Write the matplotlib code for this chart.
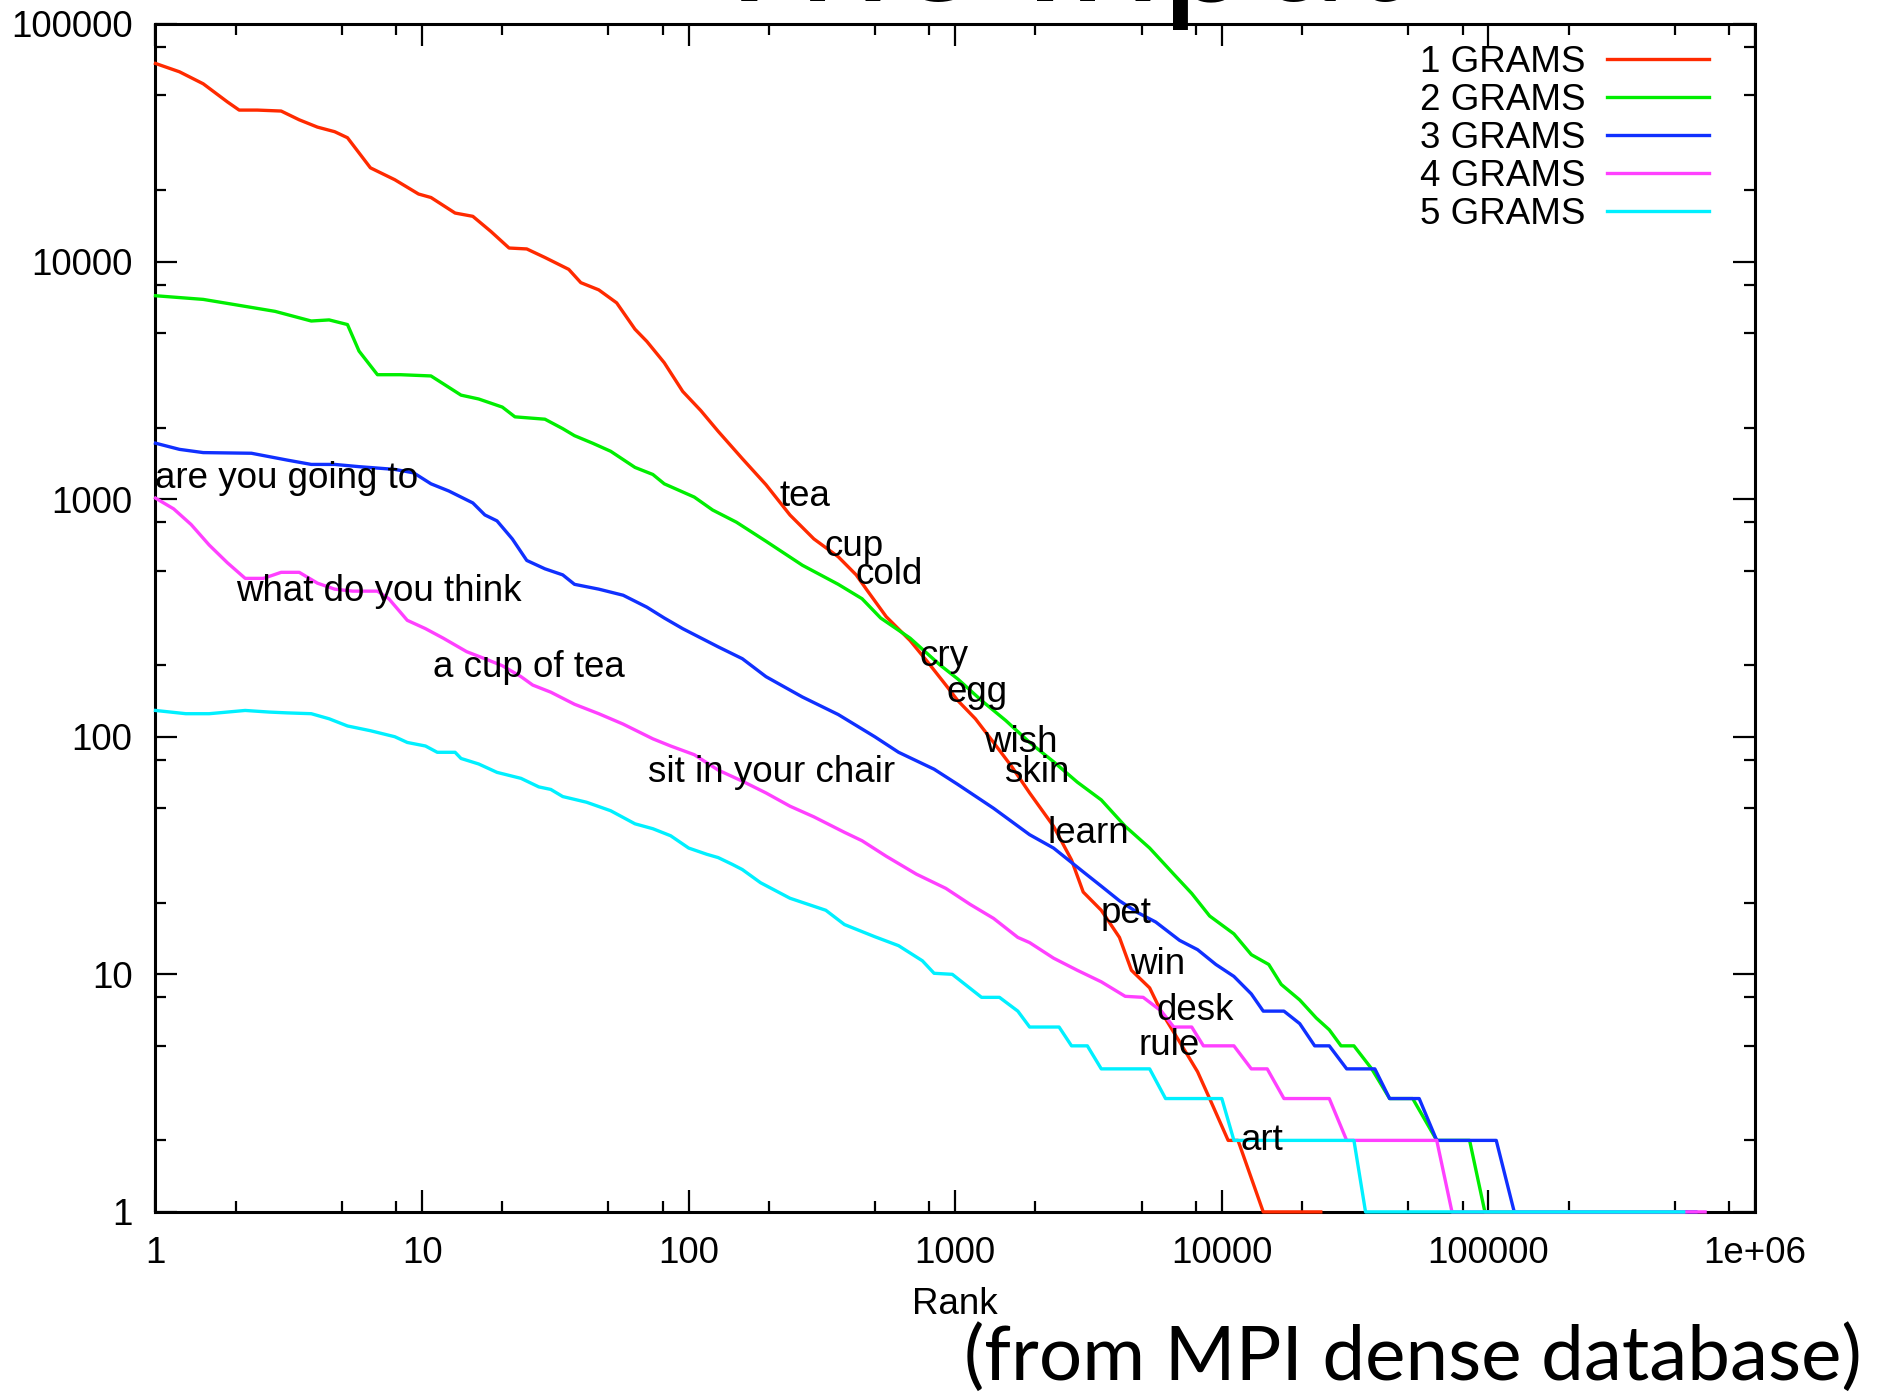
import matplotlib
matplotlib.use('Agg')
import matplotlib.pyplot as plt
from matplotlib.ticker import FixedLocator, NullFormatter

# data (rank, count)
rank_1 = [1, 1.23, 1.51, 1.86, 2.06, 2.41, 2.96, 3.46, 4.05, 4.7, 5.25, 6.4, 7.9, 9.7,
          10.8, 13.3, 15.5, 18.1, 21.2, 24.7, 28.9, 35.5, 39.4, 46, 53.7, 62.9, 69.7,
          81, 95, 111, 129, 159, 195, 240, 295, 364, 425, 471, 551, 677, 789, 922,
          1022, 1190, 1392, 1627, 1901, 2337, 2730, 3020, 3530, 4130, 4580, 5360,
          5930, 6940, 8110, 9000, 10560, 11500, 14300, 23500]
count_1 = [68200, 62900, 56000, 47000, 43400, 43400, 43000, 39500, 36800, 35200, 33200,
           24800, 22100, 19240, 18600, 16000, 15500, 13400, 11400, 11300, 10400, 9270,
           8150, 7600, 6700, 5190, 4610, 3750, 2840, 2360, 1930, 1480, 1150, 857, 680,
           572, 480, 408, 320, 254, 206, 165, 142, 119, 94.6, 75, 58, 42, 30.3, 22.2,
           18.6, 14.3, 10.4, 8.77, 6.95, 5.2, 3.89, 3, 2, 2, 1, 1]

rank_2 = [1, 1.51, 2.06, 2.81, 3.84, 4.48, 5.25, 5.8, 6.8, 8.3, 10.8, 14, 16.3, 20,
          22.3, 28.9, 33.7, 37.3, 43.6, 51, 62.9, 73.4, 81, 105, 123, 151, 195, 267,
          364, 447, 525, 677, 874, 1022, 1255, 1547, 1901, 2337, 2870, 3530, 4340,
          5360, 6600, 7710, 9000, 11100, 12900, 15000, 16700, 19600, 22600, 25300,
          28000, 31300, 36500, 42600, 52000, 64000, 85000, 97000, 550000]
count_2 = [7180, 6930, 6540, 6170, 5620, 5680, 5430, 4200, 3340, 3340, 3300, 2740, 2640,
           2440, 2220, 2170, 1980, 1850, 1720, 1590, 1360, 1270, 1160, 1020, 900, 800,
           665, 527, 438, 381, 316, 260, 201, 175, 142, 117, 94.6, 78.5, 64.4, 54.2,
           42, 34, 26.4, 21.9, 17.6, 14.8, 12.1, 11, 9.07, 7.8, 6.55, 5.84, 5, 5, 4,
           3, 3, 2, 2, 1, 1]

rank_3 = [1, 1.23, 1.51, 2.29, 3.12, 3.84, 4.7, 5.8, 7.9, 9.3, 10.8, 12.6, 15.5, 17.2,
          19.1, 21.8, 24.7, 28.9, 33.7, 37.3, 46, 56.8, 69.7, 81, 95, 129, 159, 195,
          267, 364, 499, 613, 833, 1022, 1392, 1901, 2337, 3020, 3530, 4130, 4830,
          5650, 6940, 8110, 9500, 11100, 12900, 14300, 17100, 19600, 22300, 25300,
          29400, 37500, 42600, 55000, 64000, 107000, 125000, 600000]
count_3 = [1720, 1620, 1570, 1560, 1460, 1400, 1400, 1370, 1334, 1290, 1160, 1082, 964,
           858, 810, 680, 552, 509, 480, 438, 418, 394, 351, 316, 285, 239, 213, 179,
           147, 124, 100, 86, 73, 63, 50, 38.7, 34, 27, 23.5, 20.4, 18.2, 16.6, 13.9,
           12.7, 11, 9.8, 8.27, 7, 7, 6.2, 5, 5, 4, 4, 3, 3, 2, 2, 1, 1]

rank_4 = [1, 1.17, 1.36, 1.59, 1.86, 2.17, 2.54, 2.96, 3.46, 4.05, 4.7, 5.5, 6.8, 7.5,
          8.8, 10.3, 12, 14.7, 17.2, 20, 23.5, 26, 30.4, 37.3, 46, 56.8, 73.4, 85.6,
          105, 129, 159, 195, 240, 295, 384, 447, 551, 715, 922, 1137, 1392, 1717,
          1901, 2337, 2870, 3530, 4340, 5070, 5930, 6600, 7710, 8530, 11100, 12900,
          14800, 17100, 25300, 29400, 64000, 73000, 650000]
count_4 = [1010, 910, 782, 641, 540, 464, 464, 492, 492, 443, 418, 410, 410, 381, 309,
           285, 260, 228, 213, 199, 179, 165, 154, 137, 125, 113, 98, 91.4, 84, 72.4,
           65, 58, 51, 46, 39.6, 36.5, 31.4, 26.4, 23, 19.7, 17.2, 14.3, 13.6, 11.7,
           10.4, 9.3, 8.08, 8, 7, 6, 6, 5, 5, 4, 4, 3, 3, 2, 2, 1, 1]

rank_5 = [1, 1.3, 1.59, 2.17, 2.67, 3.12, 3.84, 4.48, 5.25, 6.4, 7.9, 8.8, 10.3, 11.4,
          13.3, 14, 16.3, 19.1, 23.5, 27.4, 30.4, 33.7, 41.4, 51, 62.9, 73.4, 85.6,
          100, 117, 129, 146, 159, 186, 240, 327, 384, 499, 613, 753, 833, 975, 1255,
          1465, 1717, 1901, 2452, 2730, 3130, 3530, 5360, 6150, 10000, 11100, 31300,
          34600, 540000]
count_5 = [129, 125, 125, 129, 127, 126, 125, 119, 111, 106, 100, 94.6, 91.4, 86, 86, 81,
           76.8, 70.8, 66.8, 61.5, 60, 56, 53, 48.8, 43, 41, 38.3, 34, 32, 31, 29, 27.6,
           24.3, 20.9, 18.6, 16.2, 14.4, 13.2, 11.4, 10.1, 10, 8, 8, 7, 6, 6, 5, 5, 4,
           4, 3, 3, 2, 2, 1, 1]

series_labels = ['1 GRAMS', '2 GRAMS', '3 GRAMS', '4 GRAMS', '5 GRAMS']
series_colors = ['#ff2a00', '#00ee00', '#1030ff', '#ff40ff', '#00f0ff']

# word labels: text, rank, count
word_text = ['are you going to', 'what do you think', 'a cup of tea', 'sit in your chair',
             'tea', 'cup', 'cold', 'cry', 'egg', 'wish', 'skin', 'learn', 'pet', 'win',
             'desk', 'rule', 'art']
word_rank = [1, 2.0, 11.0, 70.3, 219, 323, 421, 735, 930, 1285, 1518, 2222, 3500, 4530,
             5700, 4870, 11800]
word_count = [1216, 408, 196, 70.8, 1021, 634, 480, 218, 154, 94.6, 70.8, 39.2, 18.0,
              11.05, 7.03, 5.02, 2.0]

x_ticks = [1, 10, 100, 1000, 10000, 100000, 1000000]
x_tick_labels = ['1', '10', '100', '1000', '10000', '100000', '1e+06']
y_ticks = [1, 10, 100, 1000, 10000, 100000]
y_tick_labels = ['1', '10', '100', '1000', '10000', '100000']

small = 26.5
plt.rcParams['font.family'] = ['Liberation Sans', 'DejaVu Sans']

fig = plt.figure(figsize=(18.78, 13.93), dpi=100)
ax = fig.add_axes([0.0828, 0.13, 0.8517, 0.8528])

ranks = [rank_1, rank_2, rank_3, rank_4, rank_5]
counts = [count_1, count_2, count_3, count_4, count_5]
for r, c, lab, col in zip(ranks, counts, series_labels, series_colors):
    ax.plot(r, c, color=col, lw=2.4, label=lab, clip_on=False, zorder=3)

for t, xr, yc in zip(word_text, word_rank, word_count):
    ax.text(xr, yc, t, fontsize=small, ha='left', va='center', zorder=4)

ax.set_xscale('log')
ax.set_yscale('log')
ax.set_xlim(1, 1e6)
ax.set_ylim(1, 1e5)

ax.xaxis.set_major_locator(FixedLocator(x_ticks))
ax.set_xticklabels(x_tick_labels)
ax.yaxis.set_major_locator(FixedLocator(y_ticks))
ax.set_yticklabels(y_tick_labels)
minor_x = [m * 10 ** e for e in range(6) for m in (2, 5, 8)]
minor_y = [m * 10 ** e for e in range(5) for m in (2, 5, 8)]
ax.xaxis.set_minor_locator(FixedLocator(minor_x))
ax.yaxis.set_minor_locator(FixedLocator(minor_y))
ax.xaxis.set_minor_formatter(NullFormatter())
ax.yaxis.set_minor_formatter(NullFormatter())

ax.tick_params(which='both', direction='in', top=True, right=True, labelsize=small,
               width=1.6, colors='black')
ax.tick_params(which='major', length=16)
ax.tick_params(which='minor', length=8)
ax.tick_params(axis='x', pad=17)
ax.tick_params(axis='y', pad=16.5)
for s in ax.spines.values():
    s.set_linewidth(2.2)

ax.set_xlabel('Rank', fontsize=small, labelpad=12)

ax.legend(loc='upper right', bbox_to_anchor=(0.971, 0.9825), frameon=False,
          markerfirst=False, fontsize=small, handlelength=2.75, handletextpad=0.6,
          labelspacing=0.08, borderaxespad=0, borderpad=0)

fig.text(0.561, 1 - 0.5 / 1393, 'The Input', fontsize=120, family='Lato',
         ha='center', va='baseline')
fig.text(0.9915, 13 / 1393, '(from MPI dense database)', fontsize=55, family='Lato',
         ha='right', va='baseline')

fig.savefig('out.png', dpi=100)
